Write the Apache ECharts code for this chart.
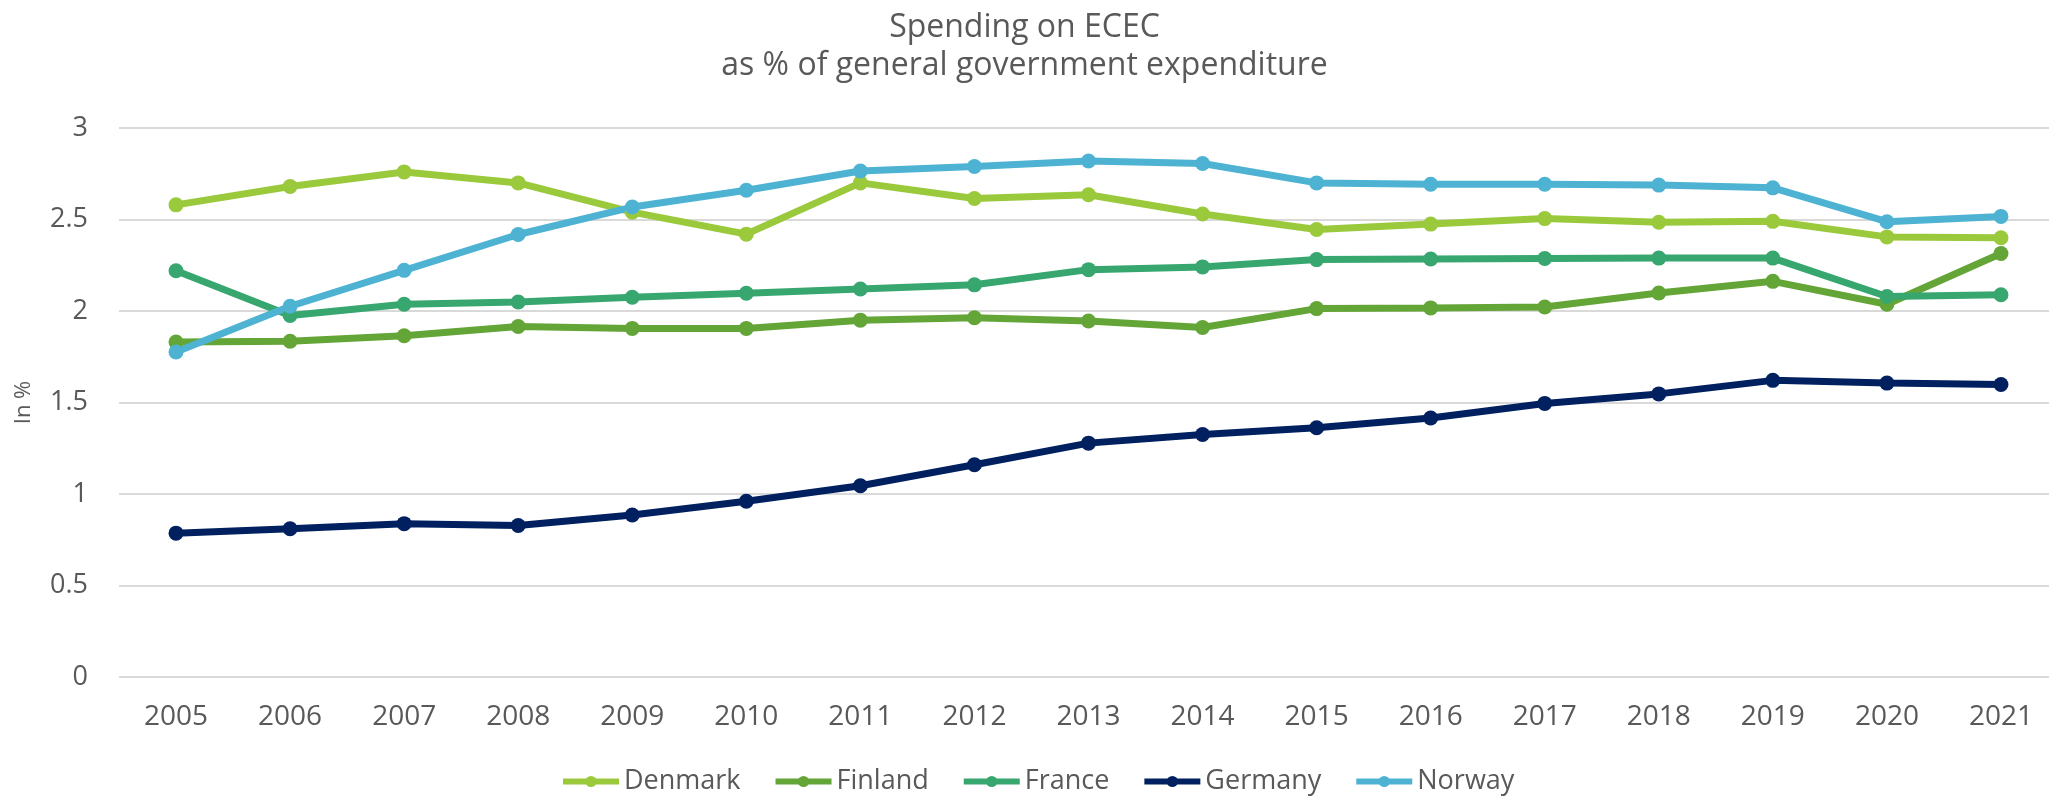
<!DOCTYPE html>
<html>
<head>
<meta charset="utf-8">
<title>Spending on ECEC</title>
<script src="https://cdn.jsdelivr.net/npm/echarts@6/dist/echarts.min.js"></script>
<style>
    html, body { margin: 0; padding: 0; background: #fff; }
    #chart { width: 2049px; height: 798px; }
</style>
</head>
<body>
<div id="chart"></div>
<script>
// Data
const years = ['2005', '2006', '2007', '2008', '2009', '2010', '2011', '2012', '2013',
    '2014', '2015', '2016', '2017', '2018', '2019', '2020', '2021'];
const denmark = [2.58, 2.68, 2.76, 2.70, 2.54, 2.42, 2.70, 2.615, 2.635, 2.53, 2.445, 2.475, 2.505, 2.485, 2.49, 2.405, 2.40];
const finland = [1.83, 1.835, 1.865, 1.915, 1.905, 1.905, 1.95, 1.963, 1.945, 1.91, 2.013, 2.017, 2.022, 2.098, 2.162, 2.037, 2.314];
const france = [2.22, 1.976, 2.037, 2.049, 2.075, 2.097, 2.12, 2.143, 2.226, 2.241, 2.281, 2.284, 2.287, 2.289, 2.289, 2.079, 2.089];
const germany = [0.786, 0.81, 0.838, 0.828, 0.885, 0.96, 1.045, 1.16, 1.278, 1.325, 1.362, 1.415, 1.495, 1.547, 1.621, 1.606, 1.598];
const norway = [1.776, 2.026, 2.222, 2.418, 2.568, 2.66, 2.765, 2.79, 2.82, 2.806, 2.70, 2.693, 2.693, 2.688, 2.673, 2.488, 2.517];

const seriesNames = ['Denmark', 'Finland', 'France', 'Germany', 'Norway'];
const seriesData = [denmark, finland, france, germany, norway];
const colors = ['#9aca3c', '#64a537', '#37a76f', '#002060', '#4eb3d3'];

const font = 'Open Sans';
const textColor = '#595959';

const chart = echarts.init(document.getElementById('chart'));

chart.setOption({
    animation: false,
    color: colors,
    textStyle: { fontFamily: font },
    title: {
        text: 'Spending on ECEC\nas % of general government expenditure',
        left: 'center',
        top: 4,
        textStyle: {
            fontFamily: font,
            fontSize: 32,
            fontWeight: 'normal',
            color: textColor,
            lineHeight: 38
        }
    },
    legend: {
        data: seriesNames,
        left: 560,
        top: 768,
        padding: 0,
        itemWidth: 56,
        itemHeight: 14,
        itemGap: 32,
        lineStyle: { width: 6 },
        textStyle: {
            fontFamily: font,
            fontSize: 27,
            color: textColor
        }
    },
    grid: {
        left: 119,
        right: -9,
        top: 128,
        bottom: 121,
        outerBoundsMode: 'none'
    },
    xAxis: {
        type: 'category',
        data: years,
        boundaryGap: true,
        axisLine: { show: false },
        axisTick: { show: false },
        axisLabel: {
            fontFamily: font,
            fontSize: 28,
            color: textColor,
            margin: 26
        }
    },
    yAxis: {
        type: 'value',
        min: 0,
        max: 3,
        interval: 0.5,
        name: 'In %',
        nameLocation: 'middle',
        nameGap: 84,
        nameTextStyle: {
            fontFamily: font,
            fontSize: 22,
            color: textColor
        },
        axisLine: { show: false },
        axisTick: { show: false },
        axisLabel: {
            fontFamily: font,
            fontSize: 27,
            color: textColor,
            margin: 31
        },
        splitLine: {
            lineStyle: { color: '#d9d9d9', width: 2 }
        }
    },
    series: seriesNames.map((name, i) => ({
        name: name,
        type: 'line',
        data: seriesData[i],
        symbol: 'circle',
        symbolSize: 15,
        lineStyle: { width: 7 },
        itemStyle: { color: colors[i] }
    }))
});
</script>
</body>
</html>
